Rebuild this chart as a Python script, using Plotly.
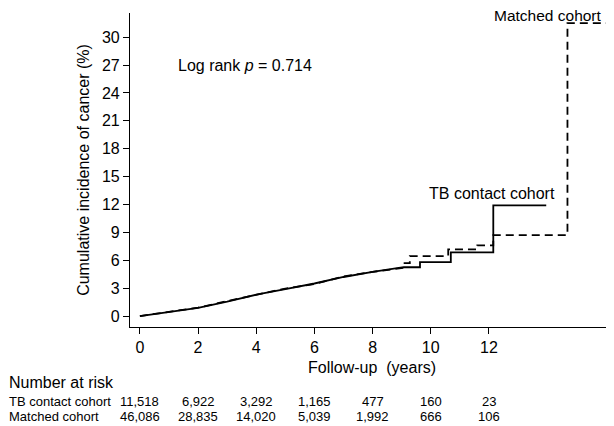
import plotly.graph_objects as go

# Cumulative incidence curves (years, %)
tb_time = [0, 1, 2, 3, 4, 5, 6, 7, 8, 9.07, 9.63, 9.63, 10.69, 10.69, 12.15, 12.15, 13.97]
tb_inc = [0, 0.42, 0.88, 1.55, 2.3, 2.9, 3.5, 4.2, 4.75, 5.25, 5.25, 5.8, 5.8, 6.85, 6.85, 11.9, 11.9]

matched_time = [0, 1, 2, 3, 4, 5, 6, 7, 8, 9.1, 9.1, 9.28, 9.28, 10.6, 10.6,
                11.6, 11.6, 12.15, 12.15, 14.7, 14.7, 16.07]
matched_inc = [0, 0.45, 0.9, 1.6, 2.3, 2.95, 3.45, 4.25, 4.75, 5.2, 5.7, 5.7, 6.45, 6.45, 7.17,
               7.17, 7.6, 7.6, 8.7, 8.7, 31.5, 31.5]

# Number at risk table
risk_times = [0, 2, 4, 6, 8, 10, 12]
tb_risk = ["11,518", "6,922", "3,292", "1,165", "477", "160", "23"]
matched_risk = ["46,086", "28,835", "14,020", "5,039", "1,992", "666", "106"]

x_ticks = [0, 2, 4, 6, 8, 10, 12]
y_ticks = [0, 3, 6, 9, 12, 15, 18, 21, 24, 27, 30]

FONT = "Liberation Sans, Arial, sans-serif"

fig = go.Figure()
fig.add_trace(go.Scatter(x=tb_time, y=tb_inc, mode="lines",
                         line=dict(color="black", width=1.8), name="TB contact cohort"))
fig.add_trace(go.Scatter(x=matched_time, y=matched_inc, mode="lines",
                         line=dict(color="black", width=1.8, dash="8px,5px"), name="Matched cohort"))

ann = []
ann.append(dict(x=1.25, y=27.0, xref="x", yref="y", text="Log rank <i>p</i> = 0.714",
                showarrow=False, xanchor="left", yanchor="middle", font=dict(size=16)))
ann.append(dict(x=9.88, y=13.2, xref="x", yref="y", text="TB contact cohort",
                showarrow=False, xanchor="left", yanchor="middle", font=dict(size=16)))
ann.append(dict(x=12.12, y=32.3, xref="x", yref="y", text="Matched cohort",
                showarrow=False, xanchor="left", yanchor="middle", font=dict(size=15.5)))
ann.append(dict(x=0.5, y=-0.13, xref="paper", yref="paper", text="Follow-up  (years)",
                showarrow=False, xanchor="center", yanchor="middle", font=dict(size=16)))

ann.append(dict(x=-0.254, y=-0.178, xref="paper", yref="paper", text="Number at risk",
                showarrow=False, xanchor="left", yanchor="middle", font=dict(size=16)))
ann.append(dict(x=-0.254, y=-0.238, xref="paper", yref="paper", text="TB contact cohort",
                showarrow=False, xanchor="left", yanchor="middle", font=dict(size=13)))
ann.append(dict(x=-0.254, y=-0.285, xref="paper", yref="paper", text="Matched cohort",
                showarrow=False, xanchor="left", yanchor="middle", font=dict(size=13)))
for t, a, b in zip(risk_times, tb_risk, matched_risk):
    ann.append(dict(x=t, y=-0.238, xref="x", yref="paper", text=a, showarrow=False,
                    xanchor="center", yanchor="middle", font=dict(size=13)))
    ann.append(dict(x=t, y=-0.285, xref="x", yref="paper", text=b, showarrow=False,
                    xanchor="center", yanchor="middle", font=dict(size=13)))

fig.update_layout(
    width=614, height=426,
    margin=dict(l=122, r=8, t=5, b=107),
    paper_bgcolor="white", plot_bgcolor="white",
    showlegend=False,
    font=dict(family=FONT, color="black", size=16),
    annotations=ann,
    xaxis=dict(range=[-0.34, 16.3], tickvals=x_ticks, showline=True, linecolor="black",
               linewidth=1.2, ticks="outside", ticklen=6, tickcolor="black",
               showgrid=False, zeroline=False, tickfont=dict(size=16)),
    yaxis=dict(range=[-1.18, 32.6], tickvals=y_ticks, showline=True, linecolor="black",
               linewidth=1.2, ticks="outside", ticklen=6, tickcolor="black",
               showgrid=False, zeroline=False, tickfont=dict(size=16),
               title=dict(text="Cumulative incidence of cancer (%)", font=dict(size=16), standoff=8)),
)

fig.write_html("out.html")
